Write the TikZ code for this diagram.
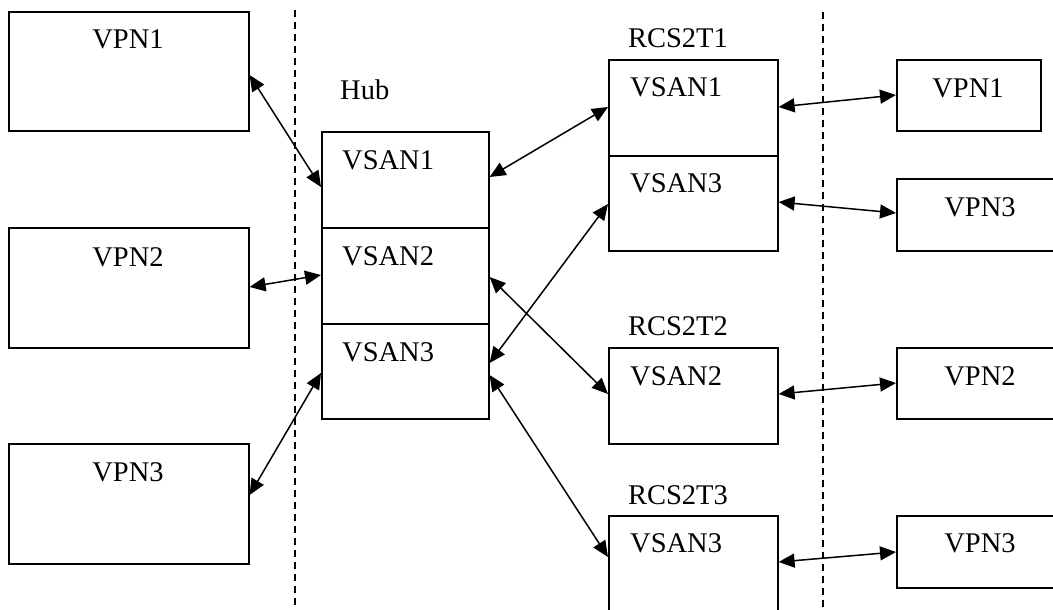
\documentclass[tikz,border=0pt]{standalone}
\usepackage{fontspec}
\setmainfont{Liberation Serif}
\usetikzlibrary{arrows.meta,calc}
\tikzset{
  box/.style={draw, line width=1.6pt, inner sep=0pt, anchor=north west},
  lbl/.style={inner sep=0pt, font=\fontsize{28.5}{34}\selectfont},
  link/.style={line width=1.5pt, {Triangle[length=16pt,width=14pt]}-{Triangle[length=16pt,width=14pt]}},
  divider/.style={line width=1.4pt, dash pattern=on 7pt off 5pt}
}
\begin{document}
\begin{tikzpicture}[x=1pt,y=-1pt]
\useasboundingbox (0,0) rectangle (1053,610);
% dashed separators
\draw[divider] (295,10) -- (295,612);
\draw[divider] (823,12) -- (823,612);
% left VPN boxes
\node[box, minimum width=240pt, minimum height=119pt] (L1) at (8,11) {};
\node[box, minimum width=240pt, minimum height=120pt] (L2) at (8,227) {};
\node[box, minimum width=240pt, minimum height=120pt] (L3) at (8,443) {};
\node[lbl] (tL1) at (128,39) {VPN1};
\node[lbl] (tL2) at (128,257) {VPN2};
\node[lbl] (tL3) at (128,472) {VPN3};
% hub
\node[lbl, anchor=west] (thub) at (340,90) {Hub};
\node[box, minimum width=167pt, minimum height=96pt] (H1) at (321,131) {};
\node[box, minimum width=167pt, minimum height=96pt] (H2) at (321,227) {};
\node[box, minimum width=167pt, minimum height=95pt] (H3) at (321,323) {};
\node[lbl, anchor=west] (tH1) at (342,160) {VSAN1};
\node[lbl, anchor=west] (tH2) at (342,256) {VSAN2};
\node[lbl, anchor=west] (tH3) at (342,352) {VSAN3};
% RCS2T1
\node[lbl] (tR1) at (678,38) {RCS2T1};
\node[box, minimum width=169pt, minimum height=96pt] (R1a) at (608,59) {};
\node[box, minimum width=169pt, minimum height=95pt] (R1b) at (608,155) {};
\node[lbl, anchor=west] (tR1a) at (630,87) {VSAN1};
\node[lbl, anchor=west] (tR1b) at (630,183) {VSAN3};
% RCS2T2
\node[lbl] (tR2) at (678,326) {RCS2T2};
\node[box, minimum width=169pt, minimum height=96pt] (R2) at (608,347) {};
\node[lbl, anchor=west] (tR2a) at (630,376) {VSAN2};
% RCS2T3
\node[lbl] (tR3) at (678,495) {RCS2T3};
\node[box, minimum width=169pt, minimum height=96pt] (R3) at (608,515) {};
\node[lbl, anchor=west] (tR3a) at (630,543) {VSAN3};
% right VPN boxes
\node[box, minimum width=144pt, minimum height=71pt] (P1) at (896,59) {};
\node[box, minimum width=168pt, minimum height=72pt] (P3) at (896,178) {};
\node[box, minimum width=168pt, minimum height=71pt] (P2) at (896,347) {};
\node[box, minimum width=168pt, minimum height=72pt] (P3b) at (896,515) {};
\node[lbl] (tP1) at (968,88) {VPN1};
\node[lbl] (tP3) at (980,207) {VPN3};
\node[lbl] (tP2) at (980,376) {VPN2};
\node[lbl] (tP3b) at (980,543) {VPN3};
% connectors
\draw[link] ($(L1.north east)+(0,64)$) -- ($(H1.north west)+(0,56)$);
\draw[link] ($(L2.north east)+(0,60)$) -- ($(H2.north west)+(0,48)$);
\draw[link] ($(L3.north east)+(0,52)$) -- ($(H3.north west)+(0,50)$);
\draw[link] ($(H1.north east)+(0,46)$) -- ($(R1a.north west)+(0,48)$);
\draw[link] ($(H3.north east)+(0,40)$) -- ($(R1b.north west)+(0,49)$);
\draw[link] ($(H2.north east)+(0,50)$) -- ($(R2.north west)+(0,47)$);
\draw[link] ($(H3.north east)+(0,52)$) -- ($(R3.north west)+(0,42)$);
\draw[link] ($(R1a.north east)+(0,48)$) -- ($(P1.north west)+(0,36)$);
\draw[link] ($(R1b.north east)+(0,47)$) -- ($(P3.north west)+(0,35)$);
\draw[link] ($(R2.north east)+(0,47)$) -- ($(P2.north west)+(0,36)$);
\draw[link] ($(R3.north east)+(0,47)$) -- ($(P3b.north west)+(0,37)$);
\end{tikzpicture}
\end{document}
